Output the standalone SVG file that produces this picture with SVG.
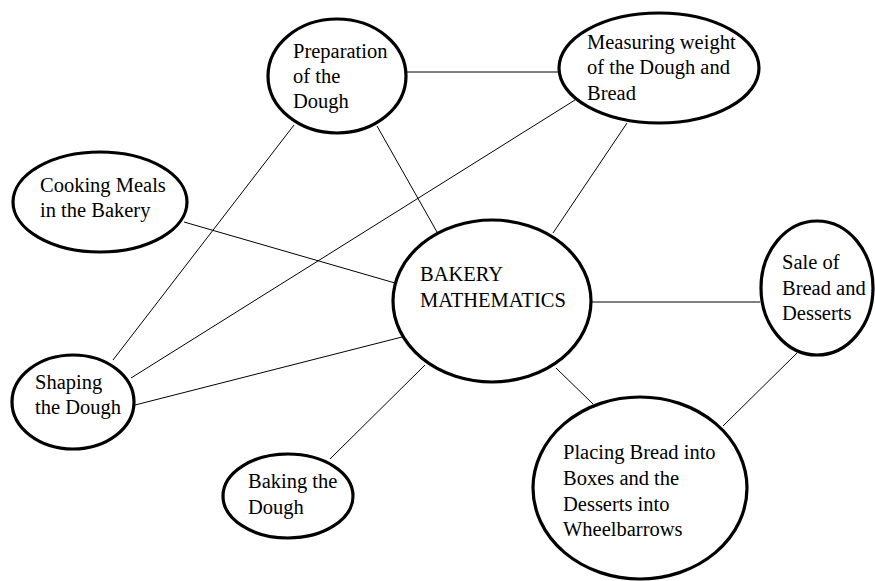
<svg xmlns="http://www.w3.org/2000/svg" width="875" height="581" viewBox="0 0 875 581">
<style>
.n ellipse{fill:#fff;stroke:#000;stroke-width:3.2}
.n text{font-family:"Liberation Serif","Times New Roman",serif;font-size:20.5px;fill:#000}
#connectors line{stroke:#000;stroke-width:1}
</style>
<rect width="875" height="581" fill="#fff"/>
<g id="connectors">
<line x1="407" y1="72" x2="559" y2="72"/>
<line x1="377" y1="126" x2="437" y2="232"/>
<line x1="294" y1="125" x2="113" y2="360"/>
<line x1="575" y1="100" x2="131" y2="378"/>
<line x1="627" y1="123" x2="553" y2="233"/>
<line x1="184" y1="222" x2="395" y2="283"/>
<line x1="135" y1="405" x2="402" y2="337"/>
<line x1="425" y1="365" x2="330" y2="459"/>
<line x1="592" y1="302" x2="760" y2="302"/>
<line x1="556" y1="368" x2="593" y2="404"/>
<line x1="797" y1="353" x2="723" y2="426"/>
</g>
<g id="preparation" class="n">
<ellipse cx="337" cy="76" rx="69" ry="57"/>
<text><tspan x="293" y="58">Preparation</tspan><tspan x="293" y="83">of the</tspan><tspan x="293" y="108">Dough</tspan></text>
</g>
<g id="measuring" class="n">
<ellipse cx="659" cy="68" rx="100" ry="55"/>
<text><tspan x="587" y="49">Measuring weight</tspan><tspan x="587" y="74">of the Dough and</tspan><tspan x="587" y="100">Bread</tspan></text>
</g>
<g id="cooking" class="n">
<ellipse cx="100" cy="202" rx="87" ry="50"/>
<text><tspan x="40" y="192">Cooking Meals</tspan><tspan x="40" y="217">in the Bakery</tspan></text>
</g>
<g id="bakery" class="n">
<ellipse cx="492" cy="301" rx="99" ry="81"/>
<text><tspan x="420" y="281">BAKERY</tspan><tspan x="420" y="307">MATHEMATICS</tspan></text>
</g>
<g id="sale" class="n">
<ellipse cx="817" cy="288" rx="56" ry="67"/>
<text><tspan x="782" y="269">Sale of</tspan><tspan x="782" y="295">Bread and</tspan><tspan x="782" y="320">Desserts</tspan></text>
</g>
<g id="shaping" class="n">
<ellipse cx="73" cy="402" rx="61" ry="47"/>
<text><tspan x="35" y="389">Shaping</tspan><tspan x="35" y="414">the Dough</tspan></text>
</g>
<g id="baking" class="n">
<ellipse cx="288" cy="496" rx="65" ry="42"/>
<text><tspan x="248" y="488">Baking the</tspan><tspan x="248" y="514">Dough</tspan></text>
</g>
<g id="placing" class="n">
<ellipse cx="640" cy="488" rx="107" ry="91"/>
<text><tspan x="563" y="459">Placing Bread into</tspan><tspan x="563" y="485">Boxes and the</tspan><tspan x="563" y="511">Desserts into</tspan><tspan x="563" y="536">Wheelbarrows</tspan></text>
</g>
</svg>
